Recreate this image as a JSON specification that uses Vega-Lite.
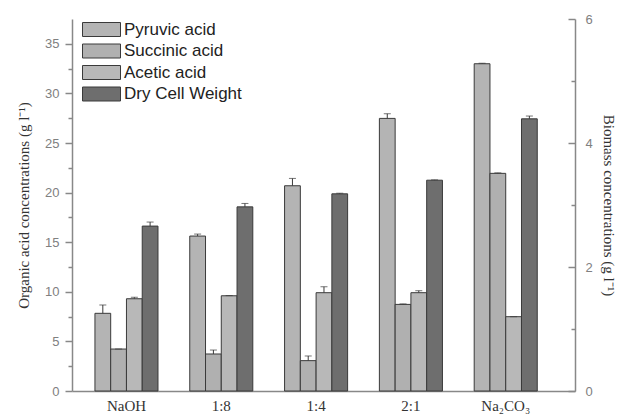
{
  "$schema": "https://vega.github.io/schema/vega-lite/v6.json",
  "width": 503,
  "height": 372,
  "autosize": {"type": "none"},
  "padding": {"left": 72, "top": 19, "right": 60, "bottom": 25},
  "background": "white",
  "config": {"view": {"stroke": null}},
  "data": {
    "values": [
      {"group": "NaOH", "series": "Pyruvic acid", "value": 7.83, "hi": 8.67},
      {"group": "NaOH", "series": "Succinic acid", "value": 4.23, "hi": 4.23},
      {"group": "NaOH", "series": "Acetic acid", "value": 9.30, "hi": 9.45},
      {"group": "NaOH", "series": "Dry Cell Weight", "value": 2.66, "hi": 2.725},
      {"group": "1:8", "series": "Pyruvic acid", "value": 15.62, "hi": 15.82},
      {"group": "1:8", "series": "Succinic acid", "value": 3.73, "hi": 4.13},
      {"group": "1:8", "series": "Acetic acid", "value": 9.60, "hi": 9.62},
      {"group": "1:8", "series": "Dry Cell Weight", "value": 2.97, "hi": 3.025},
      {"group": "1:4", "series": "Pyruvic acid", "value": 20.69, "hi": 21.43},
      {"group": "1:4", "series": "Succinic acid", "value": 3.06, "hi": 3.53},
      {"group": "1:4", "series": "Acetic acid", "value": 9.91, "hi": 10.51},
      {"group": "1:4", "series": "Dry Cell Weight", "value": 3.18, "hi": 3.19},
      {"group": "2:1", "series": "Pyruvic acid", "value": 27.48, "hi": 27.95},
      {"group": "2:1", "series": "Succinic acid", "value": 8.73, "hi": 8.78},
      {"group": "2:1", "series": "Acetic acid", "value": 9.91, "hi": 10.11},
      {"group": "2:1", "series": "Dry Cell Weight", "value": 3.40, "hi": 3.405},
      {"group": "Na₂CO₃", "series": "Pyruvic acid", "value": 32.99, "hi": 33.04},
      {"group": "Na₂CO₃", "series": "Succinic acid", "value": 21.94, "hi": 21.99},
      {"group": "Na₂CO₃", "series": "Acetic acid", "value": 7.49, "hi": 7.49},
      {"group": "Na₂CO₃", "series": "Dry Cell Weight", "value": 4.39, "hi": 4.435}
    ]
  },
  "encoding": {
    "x": {
      "field": "group",
      "type": "nominal",
      "sort": ["NaOH", "1:8", "1:4", "2:1", "Na₂CO₃"],
      "scale": {"paddingInner": 0.335, "paddingOuter": 0.32, "align": 0.378},
      "axis": {
        "title": null,
        "labelAngle": 0,
        "ticks": false,
        "domainColor": "#888888",
        "domainWidth": 1.5,
        "labelFont": "Liberation Serif",
        "labelFontSize": 15,
        "labelColor": "#333333",
        "labelPadding": 7
      }
    },
    "xOffset": {
      "field": "series",
      "type": "nominal",
      "scale": {"domain": ["Pyruvic acid", "Succinic acid", "Acetic acid", "Dry Cell Weight"], "paddingInner": 0, "paddingOuter": 0}
    }
  },
  "layer": [
    {
      "transform": [{"filter": "datum.series !== 'Dry Cell Weight'"}],
      "encoding": {
        "y": {
          "field": "value",
          "type": "quantitative",
          "scale": {"domain": [0, 37.5], "nice": false, "zero": true},
          "axis": {
            "orient": "left",
            "values": [0, 2.5, 5, 7.5, 10, 12.5, 15, 17.5, 20, 22.5, 25, 27.5, 30, 32.5, 35],
            "labelExpr": "datum.value % 5 === 0 ? datum.label : ''",
            "tickSize": {"condition": {"test": "datum.value % 5 === 0", "value": 7}, "value": 4},
            "grid": false,
            "domainColor": "#888888",
            "tickColor": "#888888",
            "domainWidth": 1.5,
            "tickWidth": 1.5,
            "labelColor": "#808080",
            "labelFont": "Liberation Sans",
            "labelFontSize": 13,
            "labelPadding": 6,
            "title": "Organic acid concentrations (g l⁻¹)",
            "titleFont": "Liberation Serif",
            "titleFontSize": 15,
            "titleFontWeight": "normal",
            "titleColor": "#333333",
            "titlePadding": 13
          }
        }
      },
      "layer": [
        {
          "mark": {"type": "bar", "stroke": "#3a3a3a", "strokeWidth": 1},
          "encoding": {
            "fill": {
              "field": "series",
              "type": "nominal",
              "scale": {
                "domain": ["Pyruvic acid", "Succinic acid", "Acetic acid", "Dry Cell Weight"],
                "range": ["#b4b4b4", "#b0b0b0", "#b8b8b8", "#6e6e6e"]
              },
              "legend": {
                "title": null,
                "orient": "none",
                "legendX": 19,
                "legendY": 0,
                "padding": 0,
                "symbolType": "M-1.9,-0.7L1.9,-0.7L1.9,0.7L-1.9,0.7Z",
                "symbolSize": 400,
                "symbolStrokeColor": "#444444",
                "symbolStrokeWidth": 1,
                "labelFont": "Liberation Sans",
                "labelFontSize": 17,
                "labelColor": "#222222",
                "labelOffset": 12,
                "rowPadding": 1.5
              }
            }
          }
        },
        {
          "mark": {"type": "rule", "color": "#3a3a3a", "strokeWidth": 1},
          "encoding": {"y2": {"field": "hi"}}
        },
        {
          "mark": {"type": "tick", "color": "#3a3a3a", "thickness": 1, "size": 7},
          "encoding": {"y": {"field": "hi", "type": "quantitative"}}
        }
      ]
    },
    {
      "transform": [{"filter": "datum.series === 'Dry Cell Weight'"}],
      "encoding": {
        "y": {
          "field": "value",
          "type": "quantitative",
          "scale": {"domain": [0, 6], "nice": false, "zero": true},
          "axis": {
            "orient": "right",
            "values": [0, 1, 2, 3, 4, 5, 6],
            "labelExpr": "datum.value % 2 === 0 ? datum.label : ''",
            "tickSize": {"condition": {"test": "datum.value % 2 === 0", "value": -7}, "value": -4},
            "grid": false,
            "domainColor": "#888888",
            "tickColor": "#888888",
            "domainWidth": 1.5,
            "tickWidth": 1.5,
            "labelColor": "#808080",
            "labelFont": "Liberation Sans",
            "labelFontSize": 13,
            "labelPadding": 17,
            "title": "Biomass concentrations (g l⁻¹)",
            "titleFont": "Liberation Serif",
            "titleFontSize": 15,
            "titleFontWeight": "normal",
            "titleColor": "#333333",
            "titlePadding": 8
          }
        }
      },
      "layer": [
        {
          "mark": {"type": "bar", "stroke": "#3a3a3a", "strokeWidth": 1},
          "encoding": {"fill": {"field": "series", "type": "nominal"}}
        },
        {
          "mark": {"type": "rule", "color": "#3a3a3a", "strokeWidth": 1},
          "encoding": {"y2": {"field": "hi"}}
        },
        {
          "mark": {"type": "tick", "color": "#3a3a3a", "thickness": 1, "size": 7},
          "encoding": {"y": {"field": "hi", "type": "quantitative"}}
        }
      ]
    }
  ],
  "resolve": {"scale": {"y": "independent"}, "axis": {"y": "independent"}}
}
